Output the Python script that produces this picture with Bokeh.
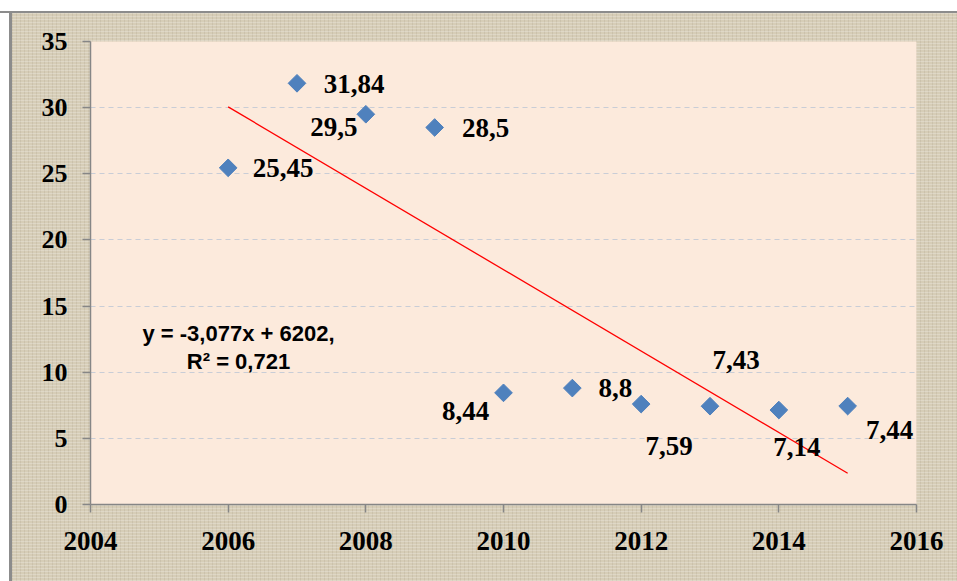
import numpy as np
from bokeh.plotting import figure
from bokeh.models import ColumnDataSource, FixedTicker, Range1d
from bokeh.core.properties import value
from bokeh.embed import file_html
from bokeh.resources import INLINE

# ---- data ----
years = [2006, 2007, 2008, 2009, 2010, 2011, 2012, 2013, 2014, 2015]
values = [25.45, 31.84, 29.5, 28.5, 8.44, 8.8, 7.59, 7.43, 7.14, 7.44]
x_ticks = [2004, 2006, 2008, 2010, 2012, 2014, 2016]
y_ticks = [0, 5, 10, 15, 20, 25, 30, 35]
equation_text = "y = -3,077x + 6202,\nR\u00b2 = 0,721"

# label placement (screen pixel offsets of label centres, styling only)
label_dx = [55, 57, -32, 51, -38, 43, 28, 26, 18, 42]
label_dy = [0, 1, 13, 1, 18, 0, 42, -46, 37, 24]

labels = [("%g" % v).replace(".", ",") for v in values]

# linear trend from the data
slope, intercept = np.polyfit(years, values, 1)
trend_x = [years[0], years[-1]]
trend_y = [slope * x + intercept for x in trend_x]

p = figure(width=957, height=581, output_backend="svg", toolbar_location=None,
           x_range=Range1d(2004, 2016), y_range=Range1d(0, 35),
           min_border_left=90, min_border_top=41, min_border_right=41,
           min_border_bottom=77)
p.styles = {
    "background-color": "#D6CDB7",
    "background-image": (
        "linear-gradient(to bottom, #FFFFFF 0px, #FFFFFF 11px, #8C8C8C 11px, #8C8C8C 13px, rgba(0,0,0,0) 13px), "
        "linear-gradient(to right, #FFFFFF 0px, #FFFFFF 9px, #8C8C8C 9px, #8C8C8C 12px, rgba(0,0,0,0) 12px), "
        "repeating-linear-gradient(0deg, rgba(255,255,255,0.22) 0px, rgba(255,255,255,0.22) 1px, "
        "rgba(0,0,0,0) 1px, rgba(0,0,0,0) 3px), "
        "repeating-linear-gradient(90deg, rgba(110,95,70,0.10) 0px, rgba(110,95,70,0.10) 1px, "
        "rgba(0,0,0,0) 1px, rgba(0,0,0,0) 4px)"
    ),
}
p.border_fill_alpha = 0
p.background_fill_color = "#FCEADC"
p.outline_line_color = None

# grid
p.xgrid.visible = False
p.ygrid.ticker = FixedTicker(ticks=y_ticks)
p.ygrid.grid_line_color = "#C9CDD6"
p.ygrid.grid_line_dash = "5 4"
p.ygrid.grid_line_width = 1

# axes
p.xaxis.ticker = FixedTicker(ticks=x_ticks)
p.yaxis.ticker = FixedTicker(ticks=y_ticks)
for ax in (p.xaxis[0], p.yaxis[0]):
    ax.axis_line_color = "#868686"
    ax.axis_line_width = 1.5
    ax.major_tick_line_color = "#868686"
    ax.major_tick_line_width = 1.5
    ax.major_tick_out = 8
    ax.major_tick_in = 0
    ax.minor_tick_line_color = None
    ax.major_label_text_font = "Liberation Serif"
    ax.major_label_text_font_style = "bold"
    ax.major_label_text_color = "black"
p.xaxis.major_label_text_font_size = "27px"
p.yaxis.major_label_text_font_size = "26px"
p.xaxis.major_label_standoff = 19
p.yaxis.major_label_standoff = 15

# trend line
p.line(trend_x, trend_y, line_color="#FF0000", line_width=1.3)

# points (square rotated 45 degrees -> Excel-style diamond)
src = ColumnDataSource(dict(x=years, y=values, label=labels, dx=label_dx, dy=label_dy))
p.scatter("x", "y", source=src, marker="square", angle=np.pi / 4, size=12.5,
          fill_color="#4F81BD", line_color="#4F81BD")

# data labels
p.text("x", "y", text="label", source=src, x_offset="dx", y_offset="dy",
       text_align="center", text_baseline="middle",
       text_font=value("Liberation Serif"), text_font_style="bold",
       text_font_size="27px", text_color="black")

# equation
p.text(x=[2006.15], y=[11.85], text=[equation_text], text_align="center",
       text_baseline="middle", text_font=value("Liberation Sans"),
       text_font_style="bold", text_font_size="22px", text_color="black",
       text_line_height=1.1)

open("out.html", "w").write(file_html(p, INLINE))
